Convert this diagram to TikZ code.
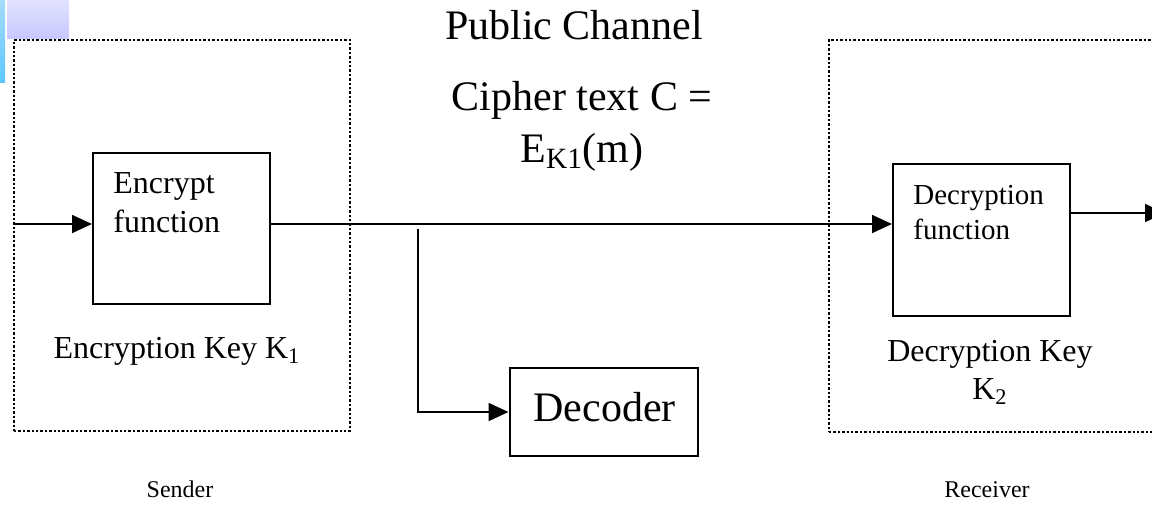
\documentclass[tikz,border=0pt]{standalone}
\usepackage{fontspec}
\setmainfont{Liberation Serif}
\usetikzlibrary{positioning, arrows.meta}

\definecolor{azulclaro}{HTML}{A6DAFB}
\definecolor{azulfuerte}{HTML}{5CC8FF}
\definecolor{lilaclaro}{HTML}{E2E2FF}
\definecolor{lilafuerte}{HTML}{C8C8FF}

\begin{document}
\begin{tikzpicture}[x=0.5pt, y=-0.5pt, >={Triangle[length=10pt,width=9pt]},
                  caja/.style={draw, line width=1pt, inner sep=0pt},
                  marco/.style={draw, line width=1.3pt, dash pattern=on 1.2pt off 1pt, inner sep=0pt},
                  flecha/.style={->, line width=0.9pt},
                  texto/.style={inner sep=0pt, align=left}]

                  \useasboundingbox (0,0) rectangle (1152,516);

                  % Adornos de la diapositiva.
                  \shade[top color=azulclaro, bottom color=azulfuerte] (0,0) rectangle (5,82);
                  \shade[top color=lilaclaro, bottom color=lilafuerte] (7,0) rectangle (69,38);

                  % Marcos del emisor y del receptor.
                  \node[marco, minimum width=168pt, minimum height=195.5pt] (emisor) at (182,235.5) {};
                  \node[marco, minimum width=170.5pt, minimum height=196pt] (receptor) at (999.5,236) {};

                  % Cajas de las funciones.
                  \node[caja, minimum width=88.5pt, minimum height=75.5pt] (cifrador) at (181.5,228.5) {};
                  \node[caja, minimum width=88.5pt, minimum height=76pt] (descifrador) at (981.5,240) {};
                  \node[caja, minimum width=94pt, minimum height=44pt] (decodificador) at (603.5,412) {};

                  % Textos.
                  \node[texto, anchor=base, font=\fontsize{21}{26}\selectfont] (canalpub) at (574,39) {Public Channel};
                  \node[texto, anchor=north, align=center, font=\fontsize{21}{26}\selectfont] (cifrado) at (582,81)
                  {Cipher text C =\\E\textsubscript{K1}(m)};
                  \node[texto, anchor=base west, font=\fontsize{21}{26}\selectfont] (txtdeco) at (533,421) {Decoder};
                  \node[texto, anchor=north west, font=\fontsize{16}{19.5}\selectfont] (txtcif) at (113,172)
                  {Encrypt\\function};
                  \node[texto, anchor=north west, font=\fontsize{14.5}{17.5}\selectfont] (txtdes) at (913,185)
                  {Decryption\\function};
                  \node[texto, anchor=base, font=\fontsize{16}{19}\selectfont] (clave1) at (177,358)
                  {Encryption Key K\textsubscript{1}};
                  \node[texto, anchor=north, align=center, font=\fontsize{16}{19}\selectfont] (clave2) at (990,340)
                  {Decryption Key\\K\textsubscript{2}};
                  \node[texto, anchor=base, font=\fontsize{12}{14}\selectfont] (txtemisor) at (180,497) {Sender};
                  \node[texto, anchor=base, font=\fontsize{12}{14}\selectfont] (txtreceptor) at (987,497) {Receiver};

                  % Conexiones.
                  \coordinate (entrada) at (14,224);
                  \coordinate (canal) at (0,224);
                  \coordinate (toma) at (418,229);
                  \coordinate (salida) at (1165,213);
                  \draw[flecha] (entrada) -- (cifrador.west |- entrada);
                  \draw[flecha] (cifrador.east |- canal) -- (descifrador.west |- canal);
                  \draw[flecha] (toma) |- (decodificador.west);
                  \draw[flecha] (descifrador.east |- salida) -- (salida);

                \end{tikzpicture}
\end{document}
